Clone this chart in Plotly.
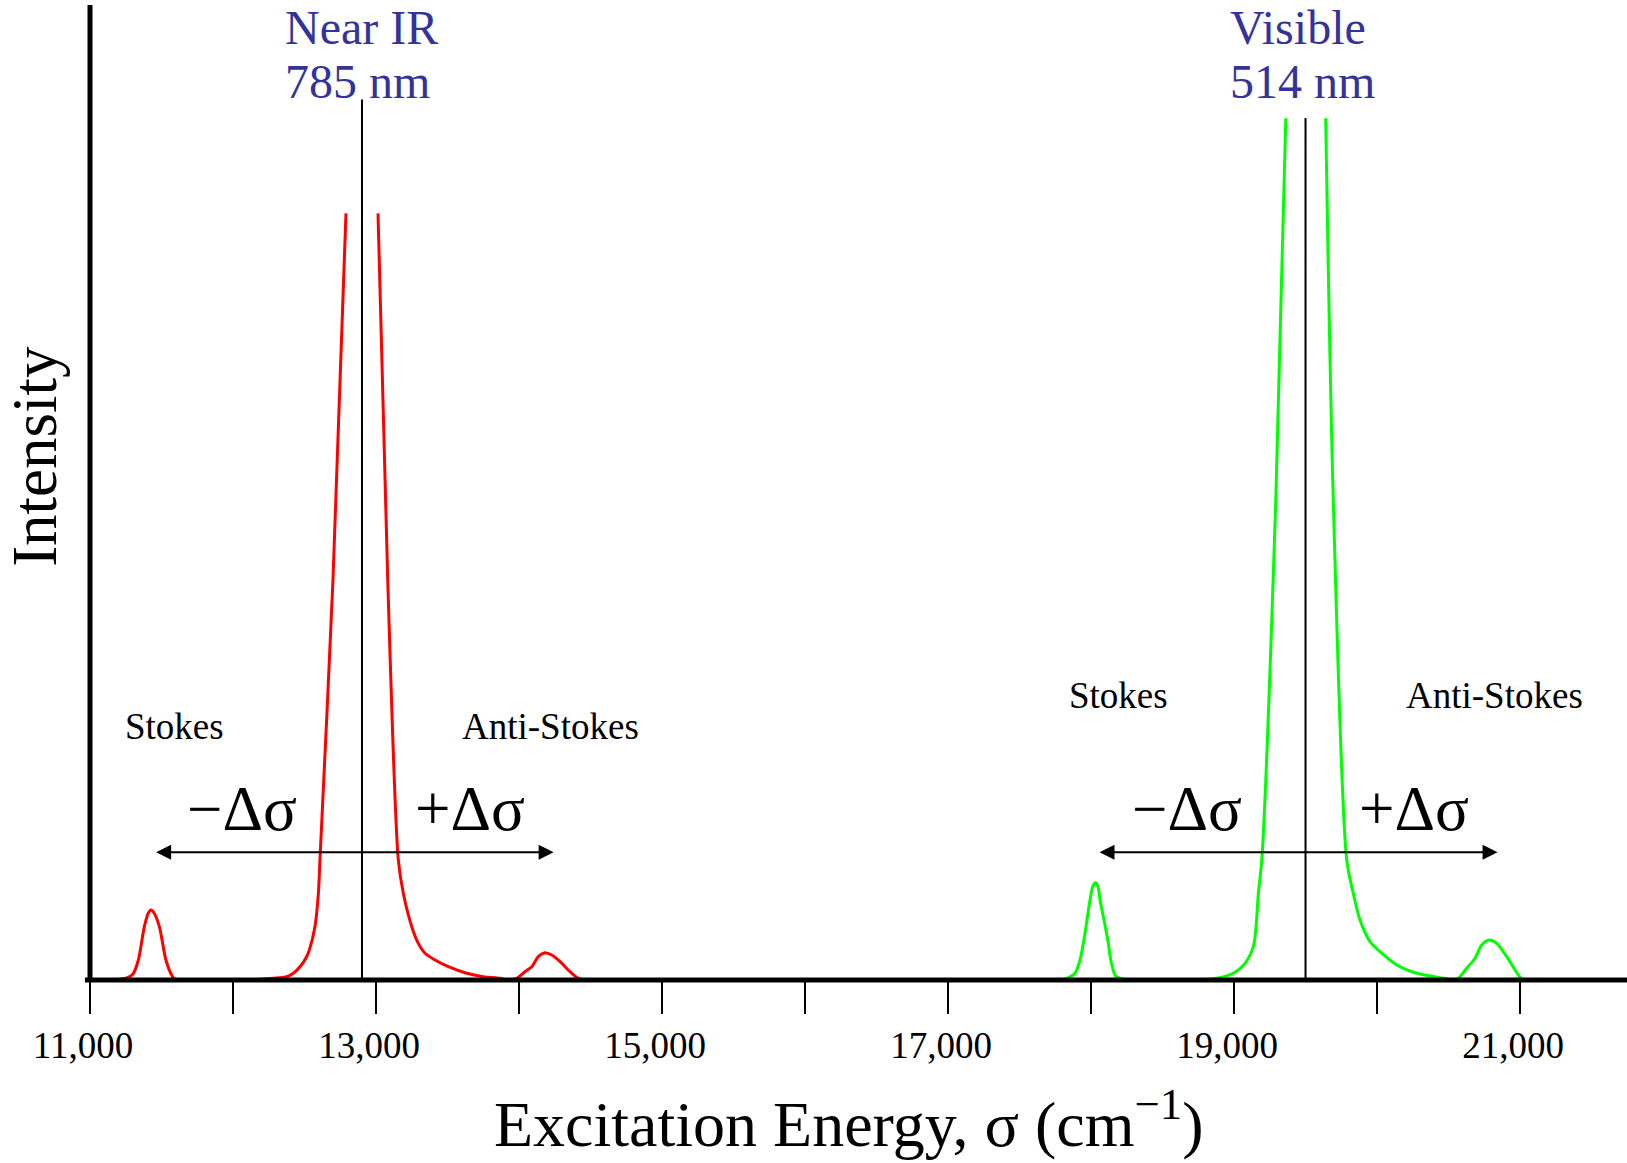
import plotly.graph_objects as go

# ---------------- data ----------------
# Near-IR (785 nm) spectrum: Stokes line, truncated Rayleigh line, anti-Stokes line
red_sigma = [11154, 11257, 11301, 11338, 11380, 11408, 11427, 11448, 11485, 11531, 11571, 11594, 11699,
             12096, 12282, 12376, 12422, 12469, 12515, 12534, 12573, 12597, 12608, 12699, 12790,
             None,
             13014, 13082, 13156, 13191, 13250, 13296, 13343, 13413, 13506, 13634, 13750, 13867, 13916,
             13984, 14042, 14089, 14135, 14182, 14229, 14287, 14357, 14415, 14469]
red_intensity = [0, 0.21, 0.62, 2.05, 5.47, 6.87, 7.18, 6.87, 5.47, 2.05, 0.51, 0.10, 0,
                 0, 0.17, 0.34, 0.69, 1.36, 2.39, 3.08, 5.47, 8.89, 12.31, 41.03, 78.63,
                 None,
                 78.63, 41.03, 12.31, 8.89, 5.47, 3.76, 2.74, 2.05, 1.36, 0.69, 0.34, 0.17, 0,
                 0.17, 0.85, 1.36, 2.39, 2.80, 2.56, 1.88, 0.85, 0.17, 0]

# Visible (514 nm) spectrum
green_sigma = [17769, 17830, 17888, 17923, 17946, 17965, 17993, 18012, 18030, 18049, 18063, 18100, 18121, 18138,
               18168, 18203, 18273,
               18762, 18879, 18995, 19077, 19135, 19154, 19170, 19194, 19292, 19362,
               None,
               19641, 19694, 19788, 19834, 19881, 19951, 20021, 20138, 20278, 20464, 20532,
               20569, 20627, 20685, 20732, 20785, 20837, 20907, 20988, 21021, 21740]
green_intensity = [0, 0.17, 0.69, 2.05, 3.76, 5.47, 8.21, 9.57, 9.98, 9.57, 8.21, 5.47, 3.76, 2.05,
                   0.51, 0.17, 0,
                   0, 0.17, 0.69, 1.71, 3.42, 5.47, 8.89, 12.31, 49.23, 88.38,
                   None,
                   88.38, 49.23, 12.31, 8.89, 6.15, 3.93, 2.90, 1.54, 0.69, 0.17, 0,
                   0.17, 1.2, 2.23, 3.59, 4.10, 3.76, 2.39, 0.51, 0, 0]

# excitation (laser) lines
laser_sigma = [12902, 19500]
laser_top = [90.3, 88.4]
laser_names = [["Near IR", "785 nm"], ["Visible", "514 nm"]]

# Raman shift arrows (−Δσ / +Δσ)
arrow_start = [11452, 18049]
arrow_end = [14242, 20843]
arrow_level = 13.1

# axis ticks
tick_values = [11000, 12000, 13000, 14000, 15000, 16000, 17000, 18000, 19000, 20000, 21000]
tick_labels = ["11,000", "", "13,000", "", "15,000", "", "17,000", "", "19,000", "", "21,000"]

SERIF = "Liberation Serif, Times New Roman, serif"
BLUE = "#333399"

fig = go.Figure()

fig.add_trace(go.Scatter(x=red_sigma, y=red_intensity, mode="lines",
                         line=dict(color="#FF0000", width=3, shape="spline", smoothing=0.8),
                         hoverinfo="skip", showlegend=False))
fig.add_trace(go.Scatter(x=green_sigma, y=green_intensity, mode="lines",
                         line=dict(color="#00FF00", width=3, shape="spline", smoothing=0.8),
                         hoverinfo="skip", showlegend=False))

lx, ly = [], []
for s, t in zip(laser_sigma, laser_top):
    lx += [s, s, None]
    ly += [0, t, None]
fig.add_trace(go.Scatter(x=lx, y=ly, mode="lines", line=dict(color="black", width=2),
                         hoverinfo="skip", showlegend=False))

annotations = []
# arrows
for a0, a1 in zip(arrow_start, arrow_end):
    annotations.append(dict(x=a1, y=arrow_level, ax=a0, ay=arrow_level, xref="x", yref="y",
                            axref="x", ayref="y", text="", showarrow=True,
                            arrowhead=2, startarrowhead=2, arrowside="end+start",
                            arrowsize=1.5, startarrowsize=1.5, arrowwidth=2, arrowcolor="black"))

# laser labels (left aligned block)
label_left = [12350, 18958]
for left, (l1, l2) in zip(label_left, laser_names):
    annotations.append(dict(x=left, y=0.9765, xref="x", yref="paper", text=l1, showarrow=False,
                            xanchor="left", yanchor="middle", font=dict(family=SERIF, size=48, color=BLUE)))
    annotations.append(dict(x=left, y=0.922, xref="x", yref="paper", text=l2, showarrow=False,
                            xanchor="left", yanchor="middle", font=dict(family=SERIF, size=48, color=BLUE)))

# Stokes / Anti-Stokes labels
stokes_pos = [(11594, 0.2595), (18192, 0.2923)]
anti_pos = [(14217, 0.2595), (20818, 0.2923)]
for (sx, sy), (axp, ayp) in zip(stokes_pos, anti_pos):
    annotations.append(dict(x=sx, y=sy, xref="x", yref="paper", text="Stokes", showarrow=False,
                            xanchor="center", yanchor="middle", font=dict(family=SERIF, size=37, color="black")))
    annotations.append(dict(x=axp, y=ayp, xref="x", yref="paper", text="Anti-Stokes", showarrow=False,
                            xanchor="center", yanchor="middle", font=dict(family=SERIF, size=37, color="black")))

# Δσ labels
minus_pos = [12063, 18671]
plus_pos = [13657, 20259]
for mx, px in zip(minus_pos, plus_pos):
    annotations.append(dict(x=mx, y=0.175, xref="x", yref="paper", text="\u2212\u0394\u03c3", showarrow=False,
                            xanchor="center", yanchor="middle", font=dict(family=SERIF, size=63, color="black")))
    annotations.append(dict(x=px, y=0.175, xref="x", yref="paper", text="+\u0394\u03c3", showarrow=False,
                            xanchor="center", yanchor="middle", font=dict(family=SERIF, size=63, color="black")))

# axis titles
annotations.append(dict(x=0.4935, y=-0.187, xref="paper", yref="paper",
                        text="Excitation Energy, \u03c3 (cm<sup>\u22121</sup>)", showarrow=False,
                        xanchor="center", yanchor="bottom", font=dict(family=SERIF, size=64, color="black")))
annotations.append(dict(x=-0.0355, y=0.537, xref="paper", yref="paper", text="Intensity", textangle=-90,
                        showarrow=False, xanchor="center", yanchor="middle",
                        font=dict(family=SERIF, size=63, color="black")))

shapes = [
    dict(type="line", xref="paper", yref="paper", x0=-0.0033, x1=1, y0=0, y1=0,
         line=dict(color="black", width=5), layer="above"),
    dict(type="line", xref="paper", yref="paper", x0=0, x1=0, y0=0, y1=1,
         line=dict(color="black", width=5), layer="above"),
]

fig.update_layout(
    width=1627, height=1163,
    margin=dict(l=90, r=0, t=5, b=183),
    paper_bgcolor="white", plot_bgcolor="white",
    showlegend=False,
    annotations=annotations,
    shapes=shapes,
    xaxis=dict(range=[11000, 21748], tickvals=tick_values, ticktext=tick_labels,
               ticks="outside", ticklen=33, tickwidth=2, tickcolor="black",
               tickfont=dict(family=SERIF, size=37, color="black"),
               ticklabelshift=-7,
               showgrid=False, zeroline=False, showline=False, fixedrange=True),
    yaxis=dict(range=[0, 100], showticklabels=False, ticks="", showgrid=False,
               zeroline=False, showline=False, fixedrange=True),
)

fig.write_html("out.html", config={"displayModeBar": False})
